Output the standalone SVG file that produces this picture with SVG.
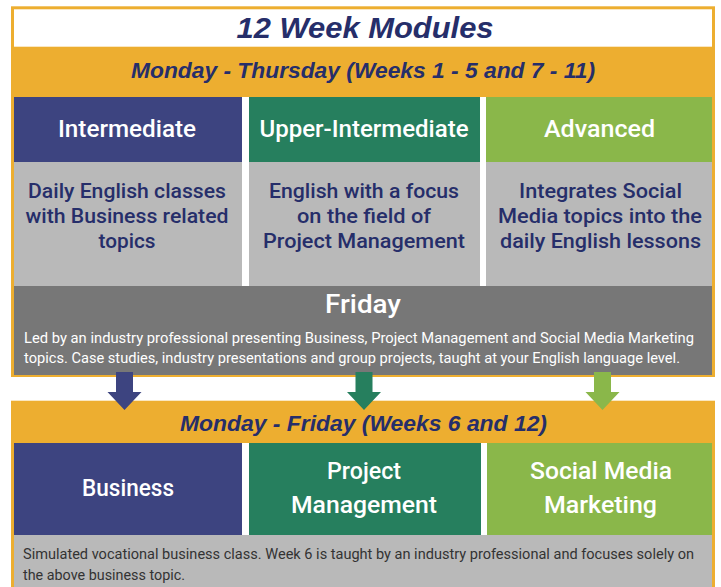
<svg xmlns="http://www.w3.org/2000/svg" width="721" height="587" viewBox="0 0 721 587">
<style>
.ttl{font-family:"Liberation Sans",Arial,sans-serif;font-weight:bold;font-style:italic;fill:#262E6A;text-anchor:middle}
.hd{font-family:Roboto,"Liberation Sans",sans-serif;font-weight:500;fill:#ffffff;text-anchor:middle}
.ds{font-family:Roboto,"Liberation Sans",sans-serif;font-weight:500;fill:#262E6A;text-anchor:middle;font-size:21px}
.bd{font-family:Roboto,"Liberation Sans",sans-serif;font-weight:400;font-size:15px}
.or{fill:#EDAE30}
.nv{fill:#3D4480}
.gr{fill:#267F5E}
.lg{fill:#8AB74A}
.lgy{fill:#B9B9B9}
.dgy{fill:#777777}
</style>
<defs>
<path id="arrow" d="M-8.5,0 H8.5 V20 H17 L0,38 L-17,20 H-8.5 Z"/>
</defs>
<rect width="721" height="587" fill="#ffffff"/>

<g id="top-panel">
<rect class="or" x="11" y="6.3" width="704" height="370.7"/>
<rect fill="#ffffff" x="14" y="9.3" width="698" height="37.4"/>
<text class="ttl" x="365" y="38" font-size="29" textLength="257" lengthAdjust="spacingAndGlyphs">12 Week Modules</text>
<text class="ttl" x="363" y="78" font-size="22" textLength="464" lengthAdjust="spacingAndGlyphs">Monday - Thursday (Weeks 1 - 5 and 7 - 11)</text>
<rect fill="#ffffff" x="14" y="97" width="698" height="189"/>
</g>

<g id="intermediate">
<rect class="nv" x="14" y="97" width="228" height="65"/>
<rect class="lgy" x="14" y="162" width="228" height="124"/>
<text class="hd" x="127" y="137" font-size="24" textLength="138" lengthAdjust="spacingAndGlyphs">Intermediate</text>
<text class="ds" x="127" y="198" textLength="198" lengthAdjust="spacingAndGlyphs">Daily English classes</text>
<text class="ds" x="127" y="223" textLength="203" lengthAdjust="spacingAndGlyphs">with Business related</text>
<text class="ds" x="127" y="248" textLength="57" lengthAdjust="spacingAndGlyphs">topics</text>
</g>

<g id="upper-intermediate">
<rect class="gr" x="249" y="97" width="231" height="65"/>
<rect class="lgy" x="249" y="162" width="231" height="124"/>
<text class="hd" x="364" y="137" font-size="24" textLength="209" lengthAdjust="spacingAndGlyphs">Upper-Intermediate</text>
<text class="ds" x="364" y="198" textLength="190" lengthAdjust="spacingAndGlyphs">English with a focus</text>
<text class="ds" x="364" y="223" textLength="134" lengthAdjust="spacingAndGlyphs">on the field of</text>
<text class="ds" x="364" y="248" textLength="202" lengthAdjust="spacingAndGlyphs">Project Management</text>
</g>

<g id="advanced">
<rect class="lg" x="486" y="97" width="226" height="65"/>
<rect class="lgy" x="486" y="162" width="226" height="124"/>
<text class="hd" x="599.5" y="137" font-size="24" textLength="111" lengthAdjust="spacingAndGlyphs">Advanced</text>
<text class="ds" x="600.5" y="198" textLength="163" lengthAdjust="spacingAndGlyphs">Integrates Social</text>
<text class="ds" x="600" y="223" textLength="204" lengthAdjust="spacingAndGlyphs">Media topics into the</text>
<text class="ds" x="600.5" y="248" textLength="201" lengthAdjust="spacingAndGlyphs">daily English lessons</text>
</g>

<g id="friday">
<rect class="dgy" x="14" y="286" width="698" height="89"/>
<text class="hd" x="363" y="313" font-size="26" textLength="76" lengthAdjust="spacingAndGlyphs">Friday</text>
<text class="bd" fill="#ffffff" x="24" y="343" textLength="670" lengthAdjust="spacingAndGlyphs">Led by an industry professional presenting Business, Project Management and Social Media Marketing</text>
<text class="bd" fill="#ffffff" x="24" y="363" textLength="656" lengthAdjust="spacingAndGlyphs">topics. Case studies, industry presentations and group projects, taught at your English language level.</text>
</g>

<g id="bottom-panel">
<rect class="or" x="11" y="400.7" width="704" height="190"/>
<text class="ttl" x="363.5" y="431" font-size="22" textLength="367" lengthAdjust="spacingAndGlyphs">Monday - Friday (Weeks 6 and 12)</text>
<rect fill="#ffffff" x="14" y="443" width="698" height="92"/>
</g>

<g id="business">
<rect class="nv" x="14" y="443" width="228" height="92"/>
<text class="hd" x="128" y="496" font-size="24" textLength="92" lengthAdjust="spacingAndGlyphs">Business</text>
</g>

<g id="project-management">
<rect class="gr" x="249" y="443" width="232" height="92"/>
<text class="hd" x="364" y="479" font-size="24" textLength="74" lengthAdjust="spacingAndGlyphs">Project</text>
<text class="hd" x="364" y="513" font-size="24" textLength="146" lengthAdjust="spacingAndGlyphs">Management</text>
</g>

<g id="social-media-marketing">
<rect class="lg" x="487" y="443" width="225" height="92"/>
<text class="hd" x="601" y="479" font-size="24" textLength="142" lengthAdjust="spacingAndGlyphs">Social Media</text>
<text class="hd" x="600.5" y="513" font-size="24" textLength="113" lengthAdjust="spacingAndGlyphs">Marketing</text>
</g>

<g id="bottom-note">
<rect class="lgy" x="14" y="535" width="698" height="60"/>
<text class="bd" fill="#333333" x="23" y="559" textLength="671" lengthAdjust="spacingAndGlyphs">Simulated vocational business class. Week 6 is taught by an industry professional and focuses solely on</text>
<text class="bd" fill="#333333" x="23" y="580" textLength="162" lengthAdjust="spacingAndGlyphs">the above business topic.</text>
</g>

<g id="connectors">
<use href="#arrow" class="nv" transform="translate(124.5,372)"/>
<use href="#arrow" class="gr" transform="translate(364,372)"/>
<use href="#arrow" class="lg" transform="translate(602.5,372)"/>
</g>
</svg>
